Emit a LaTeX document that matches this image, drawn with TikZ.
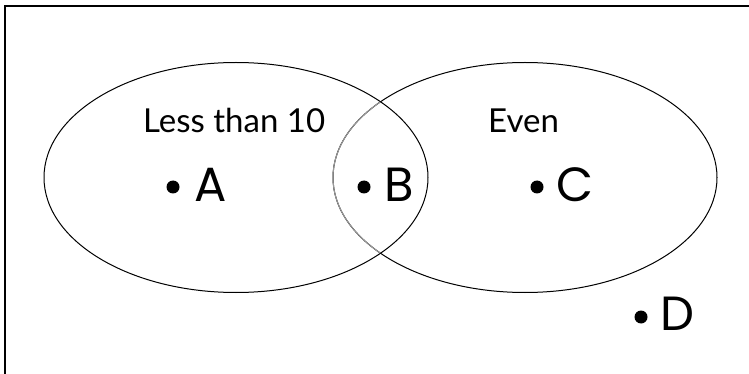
\documentclass[tikz,border=0pt]{standalone}
\usepackage{fontspec}
\setmainfont{Poppins}
\newfontfamily\labelfont{Lato}
\usetikzlibrary{shapes.geometric}
\begin{document}
\begin{tikzpicture}[x=1pt,y=-1pt,
  setshape/.style={draw=black,line width=1pt,ellipse,minimum width=384pt,minimum height=230pt,inner sep=0pt},
  dotmark/.style={circle,fill=black,inner sep=0pt,minimum size=13pt},
  letter/.style={anchor=base west,inner sep=0pt,font=\fontsize{48}{48}\selectfont},
  setlabel/.style={anchor=base west,inner sep=0pt,font=\labelfont\fontsize{33}{33}\selectfont}]
\clip (0,0) rectangle (749,374);
\fill[white] (0,0) rectangle (749,374);
\draw[line width=2.5pt] (5,6) rectangle (800,420);
\node[setshape] (L) at (236,177.5) {};
\node[setshape] (R) at (525,177.5) {};
\draw[gray!80,line width=1pt] ([shift={(139:192 and 115)}]R.center) arc[start angle=139,end angle=221,x radius=192,y radius=115];
\node[setlabel] (less) at (143,133) {Less than 10};
\node[setlabel] (even) at (488,133) {Even};
\node[dotmark] (dA) at (173,187) {};
\node[letter] (A) at (194,201) {A};
\node[dotmark] (dB) at (364,187) {};
\node[letter] (B) at (384,201) {B};
\node[dotmark] (dC) at (537,187) {};
\node[letter] (C) at (556,201) {C};
\node[dotmark] (dD) at (641,317) {};
\node[letter] (D) at (660,330) {D};
\end{tikzpicture}
\end{document}
